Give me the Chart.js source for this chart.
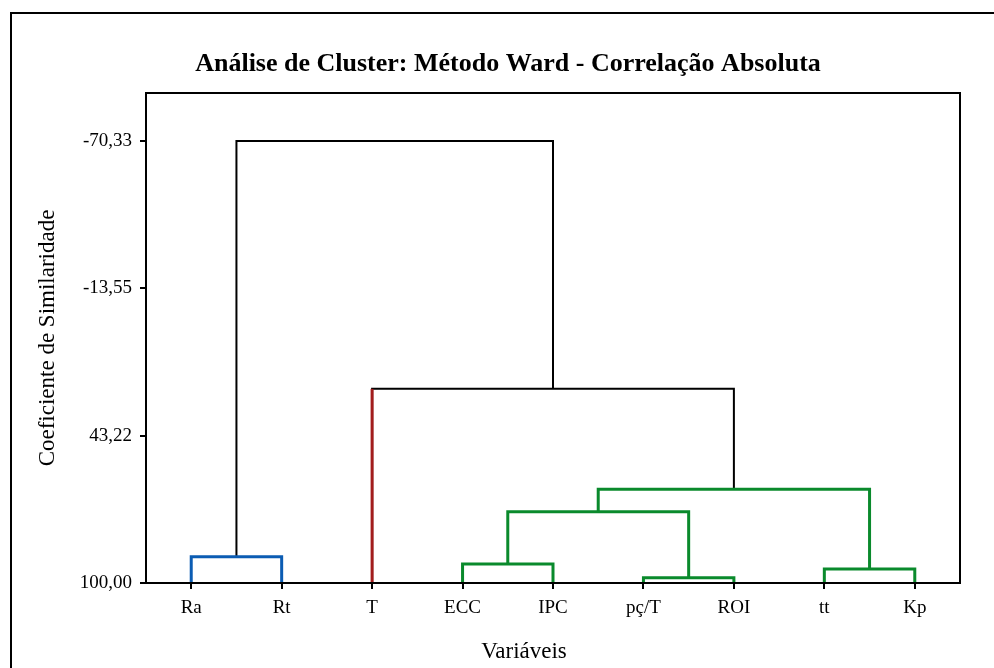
<!DOCTYPE html>
<html>
<head>
<meta charset="utf-8">
<script src="https://cdn.jsdelivr.net/npm/chart.js@4"></script>
<style>
  body { margin: 0; background: #fff; }
  #wrap { position: relative; width: 994px; height: 668px; overflow: hidden; }
  #frame { position: absolute; left: 10px; top: 12px; width: 1100px; height: 800px;
           border-left: 2px solid #000; border-top: 2px solid #000; }
  canvas { position: absolute; left: 0; top: 0; }
</style>
</head>
<body>
<div id="wrap">
  <div id="frame"></div>
  <canvas id="dendro" width="994" height="668"></canvas>
</div>
<script>
// leaves, in the order they are drawn along the x axis
const variables = ["Ra", "Rt", "T", "ECC", "IPC", "pç/T", "ROI", "tt", "Kp"];
const yTicks = [100, 43.22, -13.55, -70.33];

// each merge: x of the left and right child, level the children come from, merge level
const linkLeft = [0, 3, 5, 7, 3.5, 4.5, 2, 0.5];
const linkRight = [1, 4, 6, 8, 5.5, 7.5, 6, 4];
const linkLeftFrom = [100, 100, 100, 100, 92.7, 72.5, 100, 89.9];
const linkRightFrom = [100, 100, 100, 100, 98.0, 94.6, 63.9, 25.2];
const linkLevel = [89.9, 92.7, 98.0, 94.6, 72.5, 63.9, 25.2, -70.33];
const linkColor = ["#0b5cb3", "#0a8a2c", "#0a8a2c", "#0a8a2c", "#0a8a2c", "#0a8a2c", "#000000", "#000000"];

const serif = "'Liberation Serif', 'Times New Roman', serif";
const chartTitle = "Análise de Cluster: Método Ward - Correlação Absoluta";
const xTitle = "Variáveis";

const datasets = linkLevel.map((h, i) => ({
    data: [
        { x: linkLeft[i], y: linkLeftFrom[i] },
        { x: linkLeft[i], y: h },
        { x: linkRight[i], y: h },
        { x: linkRight[i], y: linkRightFrom[i] },
    ],
    borderColor: linkColor[i],
    borderWidth: linkColor[i] === "#000000" ? 2 : 3,
    pointRadius: 0,
    clip: false,
    order: 1,
}));

// T joins on its own, drawn in red over the black link
datasets.push({
    data: [
        { x: 2, y: 100 },
        { x: 2, y: linkLevel[6] },
    ],
    borderColor: "#a31c1c",
    borderWidth: 3,
    pointRadius: 0,
    clip: false,
    order: 0,
});

// plot box + the two titles (the reference has them off-centre)
const boxPlugin = {
    id: "box",
    afterDraw(chart) {
        const { ctx, chartArea: a } = chart;
        ctx.save();
        ctx.strokeStyle = "#000";
        ctx.lineWidth = 2;
        ctx.strokeRect(a.left, a.top, a.right - a.left, a.bottom - a.top);
        ctx.fillStyle = "#000";
        ctx.textAlign = "center";
        ctx.textBaseline = "alphabetic";
        ctx.font = "bold 26px " + serif;
        ctx.fillText(chartTitle, 508, 71);
        ctx.font = "23px " + serif;
        ctx.fillText(xTitle, 524, 658);
        ctx.restore();
    },
};

new Chart(document.getElementById("dendro"), {
    type: "line",
    data: { datasets },
    plugins: [boxPlugin],
    options: {
        responsive: false,
        animation: false,
        layout: { padding: { left: 0, right: 34, top: 93, bottom: 0 } },
        plugins: {
            legend: { display: false },
            tooltip: { enabled: false },
        },
        scales: {
            x: {
                type: "linear",
                min: -0.5,
                max: 8.5,
                afterBuildTicks: (s) => { s.ticks = variables.map((v, i) => ({ value: i })); },
                afterFit: (s) => { s.height = 85; },
                ticks: {
                    autoSkip: false,
                    maxRotation: 0,
                    color: "#000",
                    padding: 8,
                    font: { family: serif, size: 19 },
                    callback: (v) => variables[v],
                },
                grid: { drawOnChartArea: false, drawTicks: true, tickLength: 6, color: "#000", lineWidth: 2 },
                border: { display: true, color: "#000", width: 2 },
            },
            y: {
                type: "linear",
                reverse: true,
                min: -88.8,
                max: 100,
                afterBuildTicks: (s) => { s.ticks = yTicks.map((v) => ({ value: v })); },
                afterFit: (s) => { s.width = 146; },
                ticks: {
                    color: "#000",
                    padding: 8,
                    font: { family: serif, size: 19 },
                    callback: (v) => v.toFixed(2).replace(".", ","),
                },
                grid: { drawOnChartArea: false, drawTicks: true, tickLength: 6, color: "#000", lineWidth: 2 },
                border: { display: true, color: "#000", width: 2 },
                title: {
                    display: true,
                    text: "Coeficiente de Similaridade",
                    color: "#000",
                    font: { family: serif, size: 23 },
                    padding: { top: 34, bottom: 0 },
                },
            },
        },
    },
});
</script>
</body>
</html>
